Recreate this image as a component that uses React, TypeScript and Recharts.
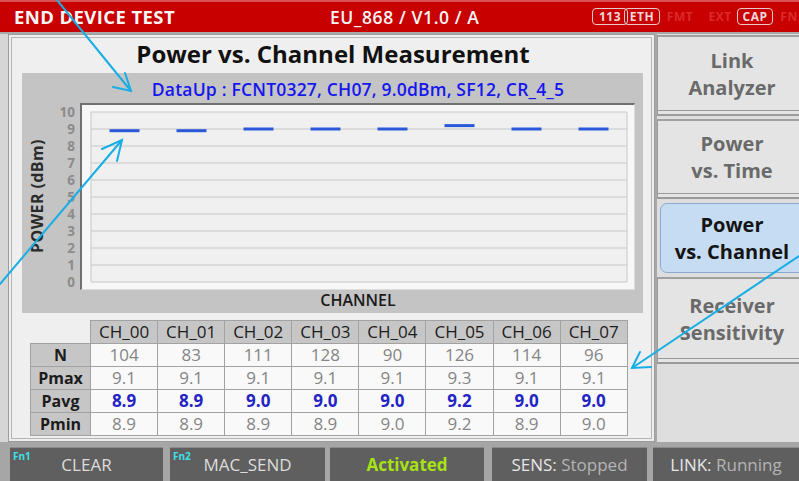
import React from 'react';
import { ComposedChart, Scatter, XAxis, YAxis, CartesianGrid } from 'recharts';

const channels = ['CH_00', 'CH_01', 'CH_02', 'CH_03', 'CH_04', 'CH_05', 'CH_06', 'CH_07'];
const countN = [104, 83, 111, 128, 90, 126, 114, 96];
const pMax = [9.1, 9.1, 9.1, 9.1, 9.1, 9.3, 9.1, 9.1];
const pAvg = [8.9, 8.9, 9.0, 9.0, 9.0, 9.2, 9.0, 9.0];
const pMin = [8.9, 8.9, 8.9, 8.9, 9.0, 9.2, 8.9, 9.0];
const yTicks = [0, 1, 2, 3, 4, 5, 6, 7, 8, 9, 10];
const channelBounds = [0, 1, 2, 3, 4, 5, 6, 7, 8];

const chartTitle = 'Power vs. Channel Measurement';
const subTitle = 'DataUp : FCNT0327, CH07, 9.0dBm, SF12, CR_4_5';

const chartData = channels.map((name, i) => ({ name, pos: i + 0.5, pavg: pAvg[i] }));

const FONT = '"Open Sans", "Noto Sans", sans-serif';

const Dash = (props: any) => {
  const { cx, cy } = props;
  if (cx == null || cy == null) return null;
  return <rect x={cx - 15} y={cy - 1.5} width={30} height={3} fill="#2b58d8" />;
};

const abs = (l: number, t: number, w: number, h: number): React.CSSProperties => ({
  position: 'absolute', left: l, top: t, width: w, height: h, boxSizing: 'border-box',
});

const Badge = ({ x, text, on }: { x: number; text: string; on: boolean }) => (
  <div style={{
    ...abs(x, 8, text.length * 10 + 6, 17), border: on ? '1.5px solid #e6caca' : 'none',
    borderRadius: 4, color: on ? '#ecdada' : '#dc2a2a', fontSize: 12, fontWeight: 700,
    display: 'flex', alignItems: 'center', justifyContent: 'center', letterSpacing: 0.5,
  }}>{text}</div>
);

const SideButton = ({ top, height, lines }: { top: number; height: number; lines: string[] }) => (
  <div style={{
    ...abs(657, top, 150, height), background: '#e4e4e4', border: '1px solid #9a9a9a',
    borderTop: '2px solid #a0a0a0', boxShadow: '0 4px 0 -1px #e4e4e4, 0 5px 0 0 #9a9a9a',
    color: '#6a6a6a', fontSize: 20, fontWeight: 700, lineHeight: '27px',
    display: 'flex', flexDirection: 'column', alignItems: 'center', justifyContent: 'center', paddingRight: 0,
  }}>
    {lines.map((l) => <div key={l}>{l}</div>)}
  </div>
);

const FnButton = ({ x, w, children }: { x: number; w: number; children: React.ReactNode }) => (
  <div style={{
    ...abs(x, 447, w, 34), background: '#5f5f5f', borderTop: '1px solid #8a8a8a',
    display: 'flex', alignItems: 'center', justifyContent: 'center', fontSize: 17, color: '#dcdcdc',
  }}>{children}</div>
);

const rowDefs = [
  { label: 'N', values: countN.map(String), color: '#858585', bold: false },
  { label: 'Pmax', values: pMax.map((v) => v.toFixed(1)), color: '#858585', bold: false },
  { label: 'Pavg', values: pAvg.map((v) => v.toFixed(1)), color: '#2424c4', bold: true },
  { label: 'Pmin', values: pMin.map((v) => v.toFixed(1)), color: '#858585', bold: false },
];

export default function App() {
  const colW = 67.1;
  const cellBase: React.CSSProperties = {
    border: '1px solid #a2a2a2', padding: 0, textAlign: 'center', height: 23, boxSizing: 'border-box', lineHeight: '20px',
  };
  return (
    <div style={{ position: 'absolute', left: 0, top: 0, width: 799, height: 481, overflow: 'hidden', background: '#d6d6d6', fontFamily: FONT }}>
      {/* top bar */}
      <div style={{ ...abs(0, 0, 799, 32), background: '#c80000', borderTop: '2px solid #d85050' }} />
      <div style={{ ...abs(0, 32, 799, 2), background: '#a8a8a8' }} />
      <div style={{ position: 'absolute', left: 14, top: 4, color: '#f6f6f6', fontSize: 18.5, fontWeight: 700, letterSpacing: 0.4 }}>END DEVICE TEST</div>
      <div style={{ position: 'absolute', left: 330, top: 5, color: '#f6f6f6', fontSize: 17.5, fontWeight: 600, whiteSpace: 'pre', letterSpacing: 0.6 }}>EU_868 / V1.0 / A</div>
      <Badge x={592} text="113" on />
      <Badge x={624} text="ETH" on />
      <Badge x={662} text="FMT" on={false} />
      <Badge x={702} text="EXT" on={false} />
      <Badge x={737} text="CAP" on />
      <Badge x={776} text="FN" on={false} />

      {/* main panel */}
      <div style={{ ...abs(8, 34, 647, 408), background: '#efefef', border: '1px solid #9c9c9c', boxShadow: 'inset 0 0 0 2px #efefef, inset 0 0 0 3px #b4b4b4' }} />
      <div style={{ position: 'absolute', left: 8, width: 650, top: 37, textAlign: 'center', fontSize: 24, fontWeight: 700, color: '#111' }}>{chartTitle}</div>

      {/* chart panel */}
      <div style={{ ...abs(22, 73, 621, 240), background: '#c4c4c4' }} />
      <div style={{ position: 'absolute', left: 22, width: 672, top: 77, textAlign: 'center', fontSize: 17.5, fontWeight: 600, color: '#1616f0', letterSpacing: 0.2 }}>{subTitle}</div>
      <div style={{ ...abs(80, 103, 555, 187), background: '#f7f7f7', borderTop: '2px solid #707070', borderLeft: '2px solid #707070', borderRight: '1px solid #dcdcdc', borderBottom: '1px solid #dcdcdc' }} />
      <div style={{ position: 'absolute', left: 37, top: 196, transform: 'translate(-50%, -50%) rotate(-90deg)', fontSize: 16, fontWeight: 700, color: '#2a2a2a', whiteSpace: 'nowrap', letterSpacing: 0.4 }}>POWER (dBm)</div>
      <div style={{ position: 'absolute', left: 280, width: 156, top: 289, textAlign: 'center', fontSize: 16, fontWeight: 600, color: '#1a1a1a' }}>CHANNEL</div>
      <div style={{ position: 'absolute', left: 22, top: 73 }}>
        <ComposedChart width={621} height={240} data={chartData} margin={{ top: 39, right: 16, bottom: 31, left: 39 }}>
          <CartesianGrid stroke="#c8c8c8" fill="#f0f0f0" />
          <XAxis type="number" dataKey="pos" domain={[0, 8]} ticks={channelBounds} tick={false} axisLine={false} tickLine={false} height={0} />
          <YAxis type="number" domain={[0, 10]} ticks={yTicks} interval={0} width={30} axisLine={false} tickLine={false} tickMargin={10}
            tick={{ fill: '#8c8c8c', fontSize: 13.5, fontWeight: 700, fontFamily: FONT }} />
          <Scatter dataKey="pavg" shape={Dash} isAnimationActive={false} />
        </ComposedChart>
      </div>

      {/* table */}
      <table style={{ position: 'absolute', left: 30, top: 320, borderCollapse: 'collapse', tableLayout: 'fixed', fontSize: 17, fontFamily: FONT }}>
        <colgroup>
          <col style={{ width: 60 }} />
          {channels.map((c) => <col key={c} style={{ width: colW }} />)}
        </colgroup>
        <tbody>
          <tr>
            <td style={{ ...cellBase, border: 'none' }} />
            {channels.map((c) => (
              <td key={c} style={{ ...cellBase, background: '#c6c6c6', color: '#1c1c1c', fontWeight: 500 }}>{c}</td>
            ))}
          </tr>
          {rowDefs.map((r) => (
            <tr key={r.label}>
              <td style={{ ...cellBase, background: '#c6c6c6', color: '#1c1c1c', fontWeight: 700, fontSize: 16 }}>{r.label}</td>
              {r.values.map((v, i) => (
                <td key={i} style={{ ...cellBase, background: '#f9f9f9', color: r.color, fontWeight: r.bold ? 700 : 400 }}>{v}</td>
              ))}
            </tr>
          ))}
        </tbody>
      </table>

      {/* right panel */}
      <div style={{ ...abs(655, 34, 144, 408), background: '#dedede', borderLeft: '2px solid #a8a8a8' }} />
      <SideButton top={35} height={76} lines={['Link', 'Analyzer']} />
      <SideButton top={119} height={75} lines={['Power', 'vs. Time']} />
      <div style={{
        ...abs(660, 203, 150, 70), background: '#c6dcf2', border: '1.5px solid #86acd2', borderRadius: 7,
        color: '#141414', fontSize: 20, fontWeight: 700, lineHeight: '27px',
        display: 'flex', flexDirection: 'column', alignItems: 'center', justifyContent: 'center', paddingRight: 6,
      }}>
        <div>Power</div>
        <div>vs. Channel</div>
      </div>
      <SideButton top={277} height={82} lines={['Receiver', 'Sensitivity']} />

      {/* bottom bar */}
      <div style={{ ...abs(0, 442, 799, 39), background: '#a6a6a6' }} />
      <FnButton x={10} w={153}>
        <span style={{ position: 'absolute', left: 3, top: 1, fontSize: 10, fontWeight: 700, color: '#3ee0e8' }}>Fn1</span>
        <span>CLEAR</span>
      </FnButton>
      <FnButton x={170} w={155}>
        <span style={{ position: 'absolute', left: 3, top: 1, fontSize: 10, fontWeight: 700, color: '#3ee0e8' }}>Fn2</span>
        <span>MAC_SEND</span>
      </FnButton>
      <FnButton x={330} w={154}>
        <span style={{ color: '#a6e214', fontWeight: 700 }}>Activated</span>
      </FnButton>
      <FnButton x={492} w={155}>
        <span style={{ color: '#e6e6e6' }}>SENS:&nbsp;</span><span style={{ color: '#b4b4b4' }}>Stopped</span>
      </FnButton>
      <FnButton x={653} w={146}>
        <span style={{ color: '#e6e6e6' }}>LINK:&nbsp;</span><span style={{ color: '#b4b4b4' }}>Running</span>
      </FnButton>

      {/* annotation arrows */}
      <svg width={799} height={481} style={{ position: 'absolute', left: 0, top: 0, pointerEvents: 'none' }}>
        <g stroke="#17aee6" strokeWidth={2} fill="none" strokeLinecap="round">
          <line x1={57} y1={0} x2={131} y2={91} />
          <polyline points="125,73 131,91 113,87" />
          <line x1={0} y1={284} x2={122} y2={140} />
          <polyline points="102,149 122,140 117,161" />
          <line x1={799} y1={256} x2={632} y2={368} />
          <polyline points="640,352 632,368 651,367" />
        </g>
      </svg>
    </div>
  );
}
